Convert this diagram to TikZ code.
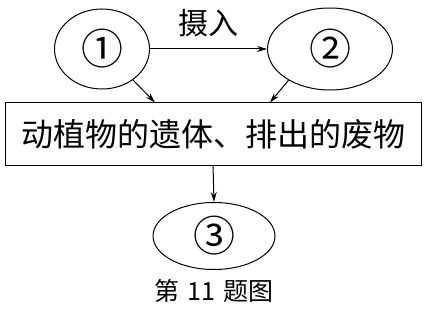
\documentclass[tikz,border=0pt]{standalone}
\usepackage{fontspec}
\newfontfamily\cjk{Noto Sans CJK SC}
\usetikzlibrary{shapes.geometric, arrows.meta}

\tikzset{
  blob/.style={draw, ellipse, line width=1pt, inner sep=0pt,
    font=\cjk\fontsize{42}{42}\selectfont},
  wastebox/.style={draw, rectangle, line width=1pt, inner sep=0pt,
    minimum width=416pt, minimum height=62pt},
  flow/.style={->, line width=1pt}
}

\begin{document}
\begin{tikzpicture}[x=1pt, y=1pt, >={Stealth[length=10pt,width=6pt]}, font=\cjk]
  \useasboundingbox (0,0) rectangle (425,311);
  % the three groups of organisms
  \node[blob, minimum width=95pt, minimum height=80pt] (e1) at (102,262) {①};
  \node[blob, minimum width=125pt, minimum height=82pt] (e2) at (330,262) {②};
  \node[blob, minimum width=122pt, minimum height=67pt] (e3) at (214,75) {③};
  % remains and wastes
  \node[wastebox, font=\cjk\fontsize{32}{32}\selectfont] (box) at (213,177) {动植物的遗体、排出的废物};
  % where the slanted arrows hit the box
  \coordinate (in1) at ([xshift=-58pt]box.north);
  \coordinate (in2) at ([xshift=57pt]box.north);
  % arrows
  \draw[flow] (e1) -- (e2) node[midway, above=8pt, font=\cjk\fontsize{30}{30}\selectfont] (take) {摄入};
  \draw[flow] (e1.-45) -- (in1);
  \draw[flow] (e2.-143) -- (in2);
  \draw[flow] (box.south) -- (e3.north);
  % caption
  \node[font=\cjk\fontsize{25}{25}\selectfont] (cap) at (214,20) {第\hspace{8pt}11\hspace{8pt}题图};
\end{tikzpicture}
\end{document}
